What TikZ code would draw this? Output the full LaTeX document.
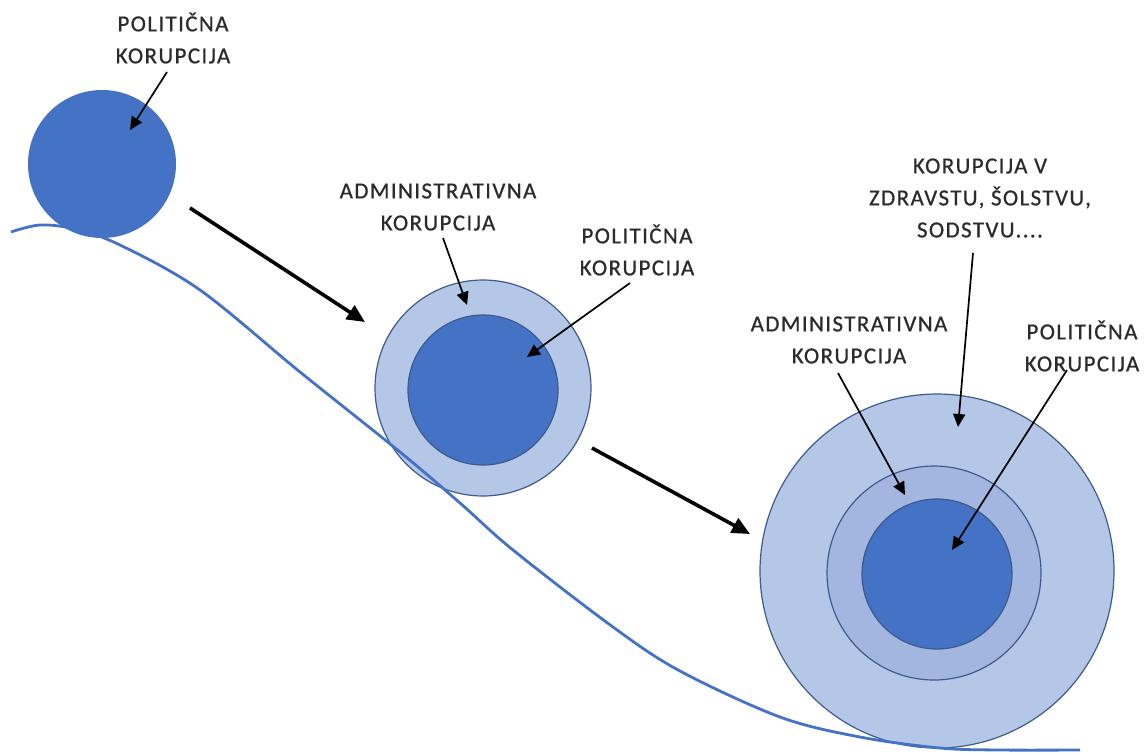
\documentclass[tikz,border=0pt]{standalone}
\usepackage{fontspec}
\newfontfamily\lblfont{Carlito}[LetterSpace=6, FakeBold=0.7]
\usetikzlibrary{arrows.meta}
\definecolor{darkblue}{HTML}{4472C4}
\definecolor{paleblue}{HTML}{B4C7E7}
\definecolor{midblue}{HTML}{A2B6DF}
\definecolor{rimblue}{HTML}{3F5A8C}
\definecolor{inktext}{HTML}{2B2B2B}
\begin{document}
\begin{tikzpicture}[x=1pt,y=-1pt,
  ball/.style={circle, inner sep=0pt, draw=rimblue, line width=1.2pt},
  lbl/.style={align=center, inner sep=0pt, text=inktext,
              font=\lblfont\fontsize{23}{32}\selectfont},
  pointer/.style={-{Triangle[length=13pt,width=12pt]}, line width=1.7pt, black},
  flow/.style={-{Triangle[length=18pt,width=16pt]}, line width=3.6pt, black},
  slope/.style={draw=darkblue, line width=2.8pt}]
\useasboundingbox (0,0) rectangle (1147,753);

% the three balls rolling down the slope
\node[ball, draw=none, fill=darkblue, minimum size=148pt] (b1) at (102,164) {};

\node[ball, fill=paleblue, minimum size=216pt] (b2out) at (483,388) {};
\node[ball, fill=darkblue, minimum size=150pt] (b2in) at (483,390) {};

\node[ball, fill=paleblue, minimum size=354pt] (b3out) at (937,571) {};
\node[ball, fill=midblue, minimum size=214pt] (b3mid) at (934,573) {};
\node[ball, fill=darkblue, minimum size=150pt] (b3in) at (937,574) {};

% the slope
\draw[slope] plot[smooth, tension=0.55] coordinates {
  (11,232) (40,225) (75,229) (120,245) (200,290) (300,372) (400,452)
  (460,503) (513,550) (613,627) (680,671) (780,717) (860,737) (940,748)
  (1000,750) (1080,750)};

% labels
\node[lbl] (t1) at (173,38) {POLITIČNA\\KORUPCIJA};
\node[lbl] (t2) at (438,207) {ADMINISTRATIVNA\\KORUPCIJA};
\node[lbl] (t3) at (637,250) {POLITIČNA\\KORUPCIJA};
\node[lbl] (t4) at (980,198) {KORUPCIJA V\\ZDRAVSTU, ŠOLSTVU,\\SODSTVU....};
\node[lbl] (t5) at (849,340) {ADMINISTRATIVNA\\KORUPCIJA};
\node[lbl] (t6) at (1082,346) {POLITIČNA\\KORUPCIJA};

% pointer ends
\coordinate (p1s) at (167,72);   \coordinate (p1e) at (130,130);
\coordinate (p2s) at (443,238);  \coordinate (p2e) at (467,305);
\coordinate (p3s) at (630,283);  \coordinate (p3e) at (527,357);
\coordinate (p4s) at (973,253);  \coordinate (p4e) at (958,427);
\coordinate (p5s) at (838,373);  \coordinate (p5e) at (905,495);
\coordinate (p6s) at (1067,370); \coordinate (p6e) at (952,550);

\draw[pointer] (p1s) -- (p1e);
\draw[pointer] (p2s) -- (p2e);
\draw[pointer] (p3s) -- (p3e);
\draw[pointer] (p4s) -- (p4e);
\draw[pointer] (p5s) -- (p5e);
\draw[pointer] (p6s) -- (p6e);

% growth arrows between the balls
\coordinate (f1s) at (190,208); \coordinate (f1e) at (365,322);
\coordinate (f2s) at (592,448); \coordinate (f2e) at (750,534);
\draw[flow] (f1s) -- (f1e);
\draw[flow] (f2s) -- (f2e);
\end{tikzpicture}
\end{document}
